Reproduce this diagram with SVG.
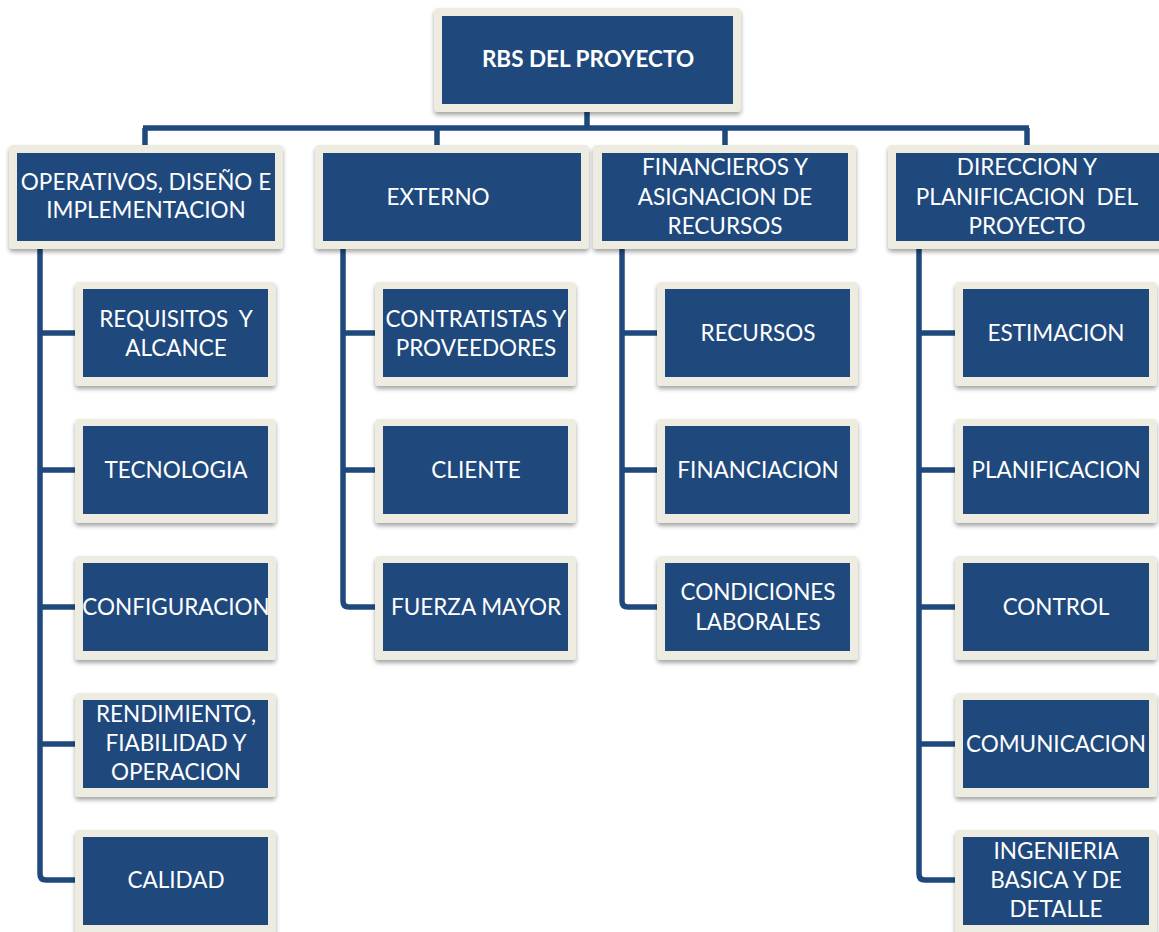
<svg xmlns="http://www.w3.org/2000/svg" width="1159" height="932" viewBox="0 0 1159 932">
  <style>
    .frame { fill: #EEECE1; filter: url(#shadow); }
    .box { fill: #1F497D; }
    .lbl { fill: #FFFFFF; font-family: "Lato", "Liberation Sans", sans-serif; font-size: 22.5px; text-anchor: middle; white-space: pre; }
    .title { font-weight: bold; font-size: 22.5px; }
    .wire { fill: none; stroke: #1F497D; stroke-width: 5.5; stroke-linejoin: round; }
  </style>
  <defs>
    <filter id="shadow" x="-10%" y="-10%" width="120%" height="130%">
      <feDropShadow dx="0" dy="3" stdDeviation="2" flood-color="#000000" flood-opacity="0.35"/>
    </filter>
  </defs>
  <rect width="1159" height="932" fill="#FFFFFF"/>

  <!-- connectors -->
  <g id="connectors" class="wire">
    <path d="M587 112 V128"/>
    <path d="M143 128 H1029"/>
    <path d="M145 128 V145 M437 128 V145 M725 128 V145 M1027 128 V145"/>
    <!-- branch A -->
    <path d="M40 249 V874 Q40 880 46 880 H75"/>
    <path d="M40 333 H75 M40 470 H75 M40 607 H75 M40 744 H75"/>
    <!-- branch B -->
    <path d="M343 249 V601 Q343 607 349 607 H375"/>
    <path d="M343 333 H375 M343 470 H375"/>
    <!-- branch C -->
    <path d="M622 249 V601 Q622 607 628 607 H657"/>
    <path d="M622 333 H657 M622 470 H657"/>
    <!-- branch D -->
    <path d="M919 249 V874 Q919 880 925 880 H955"/>
    <path d="M919 333 H955 M919 470 H955 M919 607 H955 M919 744 H955"/>
  </g>

  <!-- root -->
  <g id="root">
    <rect class="frame" x="434" y="8" width="307" height="104" rx="4"/>
    <rect class="box" x="442" y="16" width="291" height="88"/>
    <text class="lbl title" x="588" y="67">RBS DEL PROYECTO</text>
  </g>

  <!-- level 1 -->
  <g id="operativos">
    <rect class="frame" x="9" y="145" width="274" height="104" rx="4"/>
    <rect class="box" x="17" y="153" width="258" height="88"/>
    <text class="lbl" x="146" y="190">OPERATIVOS, DISEÑO E</text>
    <text class="lbl" x="146" y="218">IMPLEMENTACION</text>
  </g>
  <g id="externo">
    <rect class="frame" x="315" y="145" width="274" height="104" rx="4"/>
    <rect class="box" x="323" y="153" width="258" height="88"/>
    <text class="lbl" x="438" y="205">EXTERNO</text>
  </g>
  <g id="financieros">
    <rect class="frame" x="593" y="145" width="263" height="104" rx="4"/>
    <rect class="box" x="602" y="153" width="246" height="88"/>
    <text class="lbl" x="725" y="175">FINANCIEROS Y</text>
    <text class="lbl" x="725" y="205">ASIGNACION DE</text>
    <text class="lbl" x="725" y="234">RECURSOS</text>
  </g>
  <g id="direccion">
    <rect class="frame" x="888" y="145" width="280" height="104" rx="4"/>
    <rect class="box" x="896" y="153" width="270" height="88"/>
    <text class="lbl" x="1027" y="175">DIRECCION Y</text>
    <text class="lbl" x="1027" y="205">PLANIFICACION  DEL</text>
    <text class="lbl" x="1027" y="234">PROYECTO</text>
  </g>

  <!-- level 2: operativos -->
  <g id="requisitos">
    <rect class="frame" x="75" y="282" width="201" height="104" rx="4"/>
    <rect class="box" x="83" y="289" width="185" height="88"/>
    <text class="lbl" x="176" y="327">REQUISITOS  Y</text>
    <text class="lbl" x="176" y="356">ALCANCE</text>
  </g>
  <g id="tecnologia">
    <rect class="frame" x="75" y="419" width="201" height="104" rx="4"/>
    <rect class="box" x="83" y="426" width="185" height="88"/>
    <text class="lbl" x="176" y="478">TECNOLOGIA</text>
  </g>
  <g id="configuracion">
    <rect class="frame" x="75" y="556" width="201" height="104" rx="4"/>
    <rect class="box" x="83" y="563" width="185" height="88"/>
    <text class="lbl" x="176" y="615">CONFIGURACION</text>
  </g>
  <g id="rendimiento">
    <rect class="frame" x="75" y="693" width="201" height="104" rx="4"/>
    <rect class="box" x="83" y="700" width="185" height="88"/>
    <text class="lbl" x="176" y="722">RENDIMIENTO,</text>
    <text class="lbl" x="176" y="751">FIABILIDAD Y</text>
    <text class="lbl" x="176" y="780">OPERACION</text>
  </g>
  <g id="calidad">
    <rect class="frame" x="75" y="830" width="201" height="104" rx="4"/>
    <rect class="box" x="83" y="837" width="185" height="88"/>
    <text class="lbl" x="176" y="888">CALIDAD</text>
  </g>

  <!-- level 2: externo -->
  <g id="contratistas">
    <rect class="frame" x="375" y="282" width="201" height="104" rx="4"/>
    <rect class="box" x="383" y="289" width="185" height="88"/>
    <text class="lbl" x="476" y="327">CONTRATISTAS Y</text>
    <text class="lbl" x="476" y="356">PROVEEDORES</text>
  </g>
  <g id="cliente">
    <rect class="frame" x="375" y="419" width="201" height="104" rx="4"/>
    <rect class="box" x="383" y="426" width="185" height="88"/>
    <text class="lbl" x="476" y="478">CLIENTE</text>
  </g>
  <g id="fuerza-mayor">
    <rect class="frame" x="375" y="556" width="201" height="104" rx="4"/>
    <rect class="box" x="383" y="563" width="185" height="88"/>
    <text class="lbl" x="476" y="615">FUERZA MAYOR</text>
  </g>

  <!-- level 2: financieros -->
  <g id="recursos">
    <rect class="frame" x="657" y="282" width="201" height="104" rx="4"/>
    <rect class="box" x="665" y="289" width="185" height="88"/>
    <text class="lbl" x="758" y="341">RECURSOS</text>
  </g>
  <g id="financiacion">
    <rect class="frame" x="657" y="419" width="201" height="104" rx="4"/>
    <rect class="box" x="665" y="426" width="185" height="88"/>
    <text class="lbl" x="758" y="478">FINANCIACION</text>
  </g>
  <g id="condiciones">
    <rect class="frame" x="657" y="556" width="201" height="104" rx="4"/>
    <rect class="box" x="665" y="563" width="185" height="88"/>
    <text class="lbl" x="758" y="600">CONDICIONES</text>
    <text class="lbl" x="758" y="630">LABORALES</text>
  </g>

  <!-- level 2: direccion -->
  <g id="estimacion">
    <rect class="frame" x="955" y="282" width="202" height="104" rx="4"/>
    <rect class="box" x="963" y="289" width="186" height="88"/>
    <text class="lbl" x="1056" y="341">ESTIMACION</text>
  </g>
  <g id="planificacion">
    <rect class="frame" x="955" y="419" width="202" height="104" rx="4"/>
    <rect class="box" x="963" y="426" width="186" height="88"/>
    <text class="lbl" x="1056" y="478">PLANIFICACION</text>
  </g>
  <g id="control">
    <rect class="frame" x="955" y="556" width="202" height="104" rx="4"/>
    <rect class="box" x="963" y="563" width="186" height="88"/>
    <text class="lbl" x="1056" y="615">CONTROL</text>
  </g>
  <g id="comunicacion">
    <rect class="frame" x="955" y="693" width="202" height="104" rx="4"/>
    <rect class="box" x="963" y="700" width="186" height="88"/>
    <text class="lbl" x="1056" y="752">COMUNICACION</text>
  </g>
  <g id="ingenieria">
    <rect class="frame" x="955" y="830" width="202" height="104" rx="4"/>
    <rect class="box" x="963" y="837" width="186" height="88"/>
    <text class="lbl" x="1056" y="859">INGENIERIA</text>
    <text class="lbl" x="1056" y="888">BASICA Y DE</text>
    <text class="lbl" x="1056" y="917">DETALLE</text>
  </g>
</svg>
